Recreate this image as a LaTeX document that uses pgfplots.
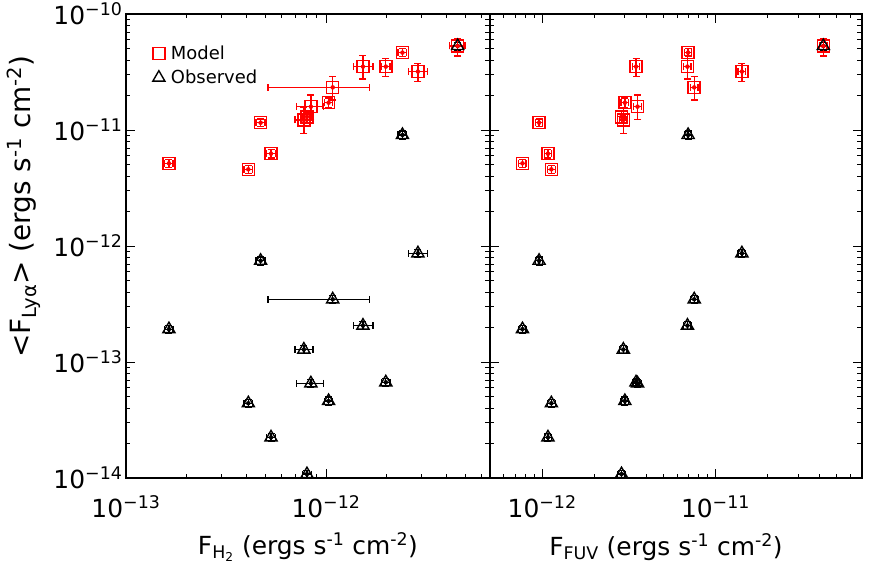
\documentclass[border=0pt]{standalone}
\usepackage{fontspec}
\setmainfont{DejaVu Sans}
\usepackage{pgfplots}
\usepackage{pgfplotstable}
\pgfplotsset{compat=1.18}

% columns: flux, x err minus/plus, model Lya, model err minus/plus, observed Lya, obs err
\pgfplotstableread{
x        exm       exp       ym        eymm     eymp     yo       eyo
1.64e-13 0.08e-13  0.08e-13  5.16e-12  0.40e-12 0.40e-12 1.92e-13 0.15e-13
4.09e-13 0.20e-13  0.20e-13  4.58e-12  0.37e-12 0.37e-12 4.41e-14 0.35e-14
4.71e-13 0.24e-13  0.24e-13  1.156e-11 0.09e-11 0.09e-11 7.46e-13 0.60e-13
5.31e-13 0.27e-13  0.27e-13  6.25e-12  0.50e-12 0.50e-12 2.24e-14 0.18e-14
7.75e-13 0.75e-13  0.85e-13  1.22e-11  0.29e-11 0.35e-11 1.28e-13 0.10e-13
8.03e-13 0.40e-13  0.40e-13  1.30e-11  0.15e-11 0.15e-11 1.08e-14 0.08e-14
8.40e-13 1.27e-13  1.29e-13  1.59e-11  0.35e-11 0.41e-11 6.55e-14 0.52e-14
1.03e-12 0.05e-12  0.05e-12  1.72e-11  0.17e-11 0.17e-11 4.61e-14 0.37e-14
1.08e-12 0.567e-12 0.57e-12  2.33e-11  0.52e-11 0.55e-11 3.47e-13 0.28e-13
1.53e-12 0.16e-12  0.19e-12  3.52e-11  0.77e-11 0.85e-11 2.06e-13 0.16e-13
1.99e-12 0.10e-12  0.10e-12  3.52e-11  0.64e-11 0.63e-11 6.68e-14 0.53e-14
2.41e-12 0.12e-12  0.12e-12  4.65e-11  0.37e-11 0.37e-11 9.06e-12 0.72e-12
2.88e-12 0.30e-12  0.33e-12  3.19e-11  0.58e-11 0.57e-11 8.65e-13 0.69e-13
4.55e-12 0.40e-12  0.40e-12  5.30e-11  0.95e-11 0.87e-11 5.30e-11 0.42e-11
}\htwo

\pgfplotstableread{
x        exm       exp       ym        eymm     eymp     yo       eyo
7.70e-13 0.38e-13  0.38e-13  5.16e-12  0.40e-12 0.40e-12 1.92e-13 0.15e-13
1.13e-12 0.06e-12  0.06e-12  4.58e-12  0.37e-12 0.37e-12 4.41e-14 0.35e-14
9.60e-13 0.48e-13  0.48e-13  1.156e-11 0.09e-11 0.09e-11 7.46e-13 0.60e-13
1.08e-12 0.05e-12  0.05e-12  6.25e-12  0.50e-12 0.50e-12 2.24e-14 0.18e-14
2.94e-12 0.15e-12  0.15e-12  1.22e-11  0.29e-11 0.35e-11 1.28e-13 0.10e-13
2.87e-12 0.14e-12  0.14e-12  1.30e-11  0.15e-11 0.15e-11 1.08e-14 0.08e-14
3.55e-12 0.18e-12  0.18e-12  1.59e-11  0.35e-11 0.41e-11 6.55e-14 0.52e-14
3.00e-12 0.15e-12  0.15e-12  1.72e-11  0.17e-11 0.17e-11 4.61e-14 0.37e-14
7.54e-12 0.38e-12  0.38e-12  2.33e-11  0.52e-11 0.55e-11 3.47e-13 0.28e-13
6.89e-12 0.34e-12  0.34e-12  3.52e-11  0.77e-11 0.85e-11 2.06e-13 0.16e-13
3.48e-12 0.17e-12  0.17e-12  3.52e-11  0.64e-11 0.63e-11 6.68e-14 0.53e-14
6.95e-12 0.35e-12  0.35e-12  4.65e-11  0.37e-11 0.37e-11 9.06e-12 0.72e-12
1.42e-11 0.07e-11  0.07e-11  3.19e-11  0.58e-11 0.57e-11 8.65e-13 0.69e-13
4.19e-11 0.21e-11  0.21e-11  5.30e-11  0.95e-11 0.87e-11 5.30e-11 0.42e-11
}\fuv

\begin{document}
\begin{tikzpicture}
\path[use as bounding box] (-126bp,-92bp) rectangle (746bp,478bp);
\begin{axis}[name=left, scale only axis, width=364bp, height=464bp,
  xmode=log, ymode=log, clip=false,
  xmin=1e-13, xmax=6.6e-12, ymin=1e-14, ymax=1e-10,
  tick align=inside,
  major tick length=9bp, minor tick length=4.5bp,
  axis line style={line width=1.1pt},
  every tick/.style={black, line width=0.9pt},
  tick label style={font=\fontsize{25}{30}\selectfont},
  xticklabel style={yshift=-14bp},
  xticklabel={\pgfmathparse{int(round(-\tick/ln(10)))}10\textsuperscript{−\pgfmathresult}},
  yticklabel={\pgfmathparse{int(round(-\tick/ln(10)))}10\textsuperscript{−\pgfmathresult}},
  xlabel style={at={(axis description cs:0.5,-0.149)}, anchor=center, font=\fontsize{25}{30}\selectfont},
  xlabel={F\textsubscript{H\textsubscript{2}} (ergs s\textsuperscript{-1} cm\textsuperscript{-2})},
  ylabel style={at={(axis description cs:-0.28,0.585)}, anchor=center, font=\fontsize{28}{32}\selectfont},
  ylabel={<F\textsubscript{Lyα}> (ergs s\textsuperscript{-1} cm\textsuperscript{-2})},
  legend style={at={(axis description cs:0.065,0.94)}, anchor=north west, draw=none, fill=none,
    font=\fontsize{18}{22}\selectfont, row sep=5bp,
    nodes={inner xsep=6bp}},
  legend image code/.code={\draw[#1] plot coordinates {(0.2cm,0cm)};},
  legend cell align=left,
]
% observed error bars, model error bars, then the markers on top
\addplot[black, only marks, mark=none, forget plot,
  error bars/.cd, x dir=both, x explicit, y dir=both, y explicit,
  error bar style={black, line width=1.3pt},
  error mark options={rotate=90, black, mark size=3.5bp, line width=1.3pt}]
  table[x=x, y=yo, x error minus=exm, x error plus=exp,
  y error minus=eyo, y error plus=eyo] {\htwo};
\addplot[red, only marks, mark=none, forget plot,
  error bars/.cd, x dir=both, x explicit, y dir=both, y explicit,
  error bar style={red, line width=1.3pt},
  error mark options={rotate=90, red, mark size=3.5bp, line width=1.3pt}]
  table[x=x, y=ym, x error minus=exm, x error plus=exp,
  y error minus=eymm, y error plus=eymp] {\htwo};
% each marker gets its own colour scope
\addplot[red, only marks, mark=square, mark size=6bp, line width=1.5pt,
  scatter, point meta=y,
  scatter/@pre marker code/.code={\scope[draw=red, line width=1.5pt]},
  scatter/@post marker code/.code={\endscope}]
  table[x=x, y=ym] {\htwo};
\addlegendentry{Model}
\addplot[black, only marks, mark=triangle, mark size=7bp, line width=1.4pt,
  scatter, point meta=y,
  scatter/@pre marker code/.code={\scope[draw=black, line width=1.4pt]},
  scatter/@post marker code/.code={\endscope}]
  table[x=x, y=yo] {\htwo};
\addlegendentry{Observed}
\end{axis}

\begin{axis}[at={(left.south east)}, anchor=south west,
  scale only axis, width=372bp, height=464bp,
  xmode=log, ymode=log, clip=false,
  xmin=5e-13, xmax=7e-11, ymin=1e-14, ymax=1e-10,
  tick align=inside,
  major tick length=9bp, minor tick length=4.5bp,
  axis line style={line width=1.1pt},
  every tick/.style={black, line width=0.9pt},
  tick label style={font=\fontsize{25}{30}\selectfont},
  xticklabel style={yshift=-14bp},
  xticklabel={\pgfmathparse{int(round(-\tick/ln(10)))}10\textsuperscript{−\pgfmathresult}},
  yticklabels={},
  xlabel style={at={(axis description cs:0.473,-0.149)}, anchor=center, font=\fontsize{25}{30}\selectfont},
  xlabel={F\textsubscript{FUV} (ergs s\textsuperscript{-1} cm\textsuperscript{-2})},
]
\addplot[black, only marks, mark=none,
  error bars/.cd, x dir=both, x explicit, y dir=both, y explicit,
  error bar style={black, line width=1.3pt},
  error mark options={rotate=90, black, mark size=3.5bp, line width=1.3pt}]
  table[x=x, y=yo, x error minus=exm, x error plus=exp,
  y error minus=eyo, y error plus=eyo] {\fuv};
\addplot[red, only marks, mark=none,
  error bars/.cd, x dir=both, x explicit, y dir=both, y explicit,
  error bar style={red, line width=1.3pt},
  error mark options={rotate=90, red, mark size=3.5bp, line width=1.3pt}]
  table[x=x, y=ym, x error minus=exm, x error plus=exp,
  y error minus=eymm, y error plus=eymp] {\fuv};
\addplot[red, only marks, mark=square, mark size=6bp, line width=1.5pt,
  scatter, point meta=y,
  scatter/@pre marker code/.code={\scope[draw=red, line width=1.5pt]},
  scatter/@post marker code/.code={\endscope}]
  table[x=x, y=ym] {\fuv};
\addplot[black, only marks, mark=triangle, mark size=7bp, line width=1.4pt,
  scatter, point meta=y,
  scatter/@pre marker code/.code={\scope[draw=black, line width=1.4pt]},
  scatter/@post marker code/.code={\endscope}]
  table[x=x, y=yo] {\fuv};
\end{axis}
\end{tikzpicture}
\end{document}
